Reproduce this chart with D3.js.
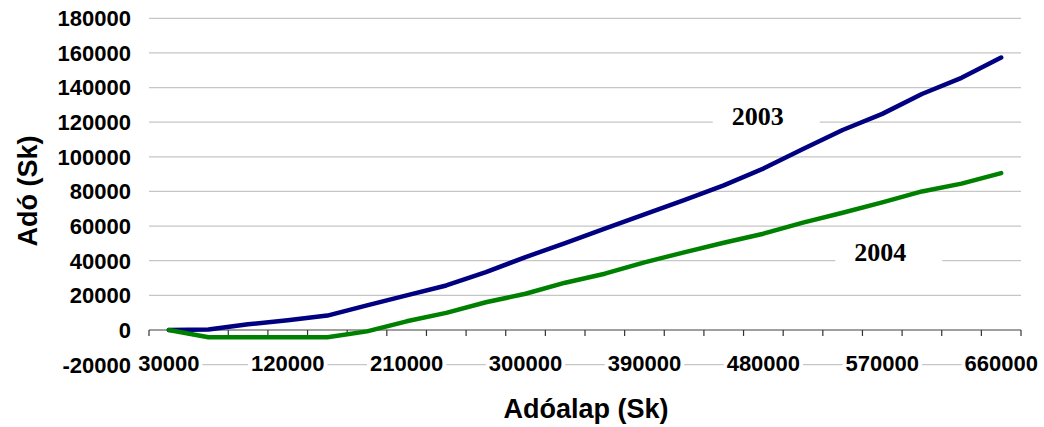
<!DOCTYPE html>
<html>
<head>
    <meta charset="utf-8">
    <title>Adó - Adóalap</title>
    <script src="https://d3js.org/d3.v7.min.js"></script>
    <style>
        body { margin: 0; background: #fff; }
        svg { display: block; }
        .tick-label { font-family: "Liberation Sans", Arial, sans-serif; font-weight: bold; font-size: 22px; fill: #000; }
        .axis-title { font-family: "Liberation Sans", Arial, sans-serif; font-weight: bold; font-size: 27px; fill: #000; }
        .series-label { font-family: "Liberation Serif", "Times New Roman", serif; font-weight: bold; font-size: 26px; fill: #000; }
    </style>
</head>
<body>
    <script>
        // tax base categories (Sk)
        var categories = [30000, 60000, 90000, 120000, 150000, 180000, 210000, 240000, 270000, 300000, 330000,
                          360000, 390000, 420000, 450000, 480000, 510000, 540000, 570000, 600000, 630000, 660000];

        // tax (Sk)
        var tax2003 = [0, 300, 3300, 5600, 8300, 14200, 20000, 25700, 33400, 42100, 50200,
                       58500, 66800, 75000, 83500, 93200, 104500, 115500, 124800, 136300, 145600, 157300];
        var tax2004 = [0, -4200, -4200, -4200, -4200, -800, 5000, 9900, 16000, 20900, 27300,
                       32500, 39000, 44800, 50400, 55600, 62000, 67700, 73700, 80000, 84500, 90600];

        var xTickLabels = [30000, 120000, 210000, 300000, 390000, 480000, 570000, 660000];
        var yDomain = [-20000, 180000];

        // series labels: [text, category index position, value]
        var seriesLabels = [["2003", 14.86, 123700], ["2004", 17.95, 45000]];

        var svg = d3.select("body").append("svg")
            .attr("width", 1044)
            .attr("height", 427);

        svg.append("rect").attr("width", 1044).attr("height", 427).attr("fill", "#fff");

        var x = d3.scaleBand().domain(categories).range([149, 1021]);
        var y = d3.scaleLinear().domain(yDomain).range([364.6, 18.3]);
        var cx = function(i) { return x(categories[0]) + (i + 0.5) * x.step(); };

        // gridlines
        var yTicks = y.ticks(10);
        svg.append("g").selectAll("line")
            .data(yTicks.filter(function(d) { return d !== 0; }))
            .join("line")
            .attr("x1", 149).attr("x2", 1021)
            .attr("y1", function(d) { return y(d); })
            .attr("y2", function(d) { return y(d); })
            .attr("stroke", "#c6c6c6")
            .attr("stroke-width", 1.2);

        // y tick labels
        svg.append("g").selectAll("text")
            .data(yTicks)
            .join("text")
            .attr("class", "tick-label")
            .attr("x", 131)
            .attr("y", function(d) { return y(d); })
            .attr("dy", "0.36em")
            .attr("text-anchor", "end")
            .text(function(d) { return d; });

        // x axis at zero
        var y0 = y(0);
        svg.append("line")
            .attr("x1", 149).attr("x2", 1021)
            .attr("y1", y0).attr("y2", y0)
            .attr("stroke", "#808080")
            .attr("stroke-width", 1.5);

        var tickPos = categories.map(function(c) { return x(c); }).concat([x.range()[1]]);
        svg.append("g").selectAll("line")
            .data(tickPos)
            .join("line")
            .attr("x1", function(d) { return d; }).attr("x2", function(d) { return d; })
            .attr("y1", y0).attr("y2", y0 + 6)
            .attr("stroke", "#333")
            .attr("stroke-width", 1.2);

        // x tick labels with white boxes over the bottom gridline
        var xl = svg.append("g").selectAll("g")
            .data(xTickLabels)
            .join("g");
        xl.append("text")
            .attr("class", "tick-label")
            .attr("x", function(d) { return x(d) + x.bandwidth() / 2; })
            .attr("y", 363)
            .attr("dy", "0.36em")
            .attr("text-anchor", "middle")
            .text(function(d) { return d; });
        xl.each(function() {
            var g = d3.select(this);
            var b = g.select("text").node().getBBox();
            g.insert("rect", "text")
                .attr("x", b.x - 3).attr("y", b.y)
                .attr("width", b.width + 6).attr("height", b.height)
                .attr("fill", "#fff");
        });

        // lines
        var line = d3.line()
            .x(function(d, i) { return cx(i); })
            .y(function(d) { return y(d); });

        svg.append("path")
            .datum(tax2003)
            .attr("d", line)
            .attr("fill", "none")
            .attr("stroke", "#000080")
            .attr("stroke-width", 4.5)
            .attr("stroke-linejoin", "round")
            .attr("stroke-linecap", "round");

        svg.append("path")
            .datum(tax2004)
            .attr("d", line)
            .attr("fill", "none")
            .attr("stroke", "#008000")
            .attr("stroke-width", 4.5)
            .attr("stroke-linejoin", "round")
            .attr("stroke-linecap", "round");

        // series labels in white text boxes
        seriesLabels.forEach(function(s) {
            var g = svg.append("g");
            var t = g.append("text")
                .attr("class", "series-label")
                .attr("x", cx(s[1]))
                .attr("y", y(s[2]))
                .attr("dy", "0.35em")
                .attr("text-anchor", "middle")
                .text(s[0]);
            var b = t.node().getBBox();
            g.insert("rect", "text")
                .attr("x", b.x - 19).attr("y", b.y - 4)
                .attr("width", b.width + 55).attr("height", b.height + 8)
                .attr("fill", "#fff");
        });

        // axis titles
        svg.append("text")
            .attr("class", "axis-title")
            .attr("transform", "translate(27,191) rotate(-90)")
            .attr("dy", "0.36em")
            .attr("text-anchor", "middle")
            .text("Adó (Sk)");

        svg.append("text")
            .attr("class", "axis-title")
            .attr("x", 586)
            .attr("y", 408)
            .attr("dy", "0.36em")
            .attr("text-anchor", "middle")
            .text("Adóalap (Sk)");
    </script>
</body>
</html>
